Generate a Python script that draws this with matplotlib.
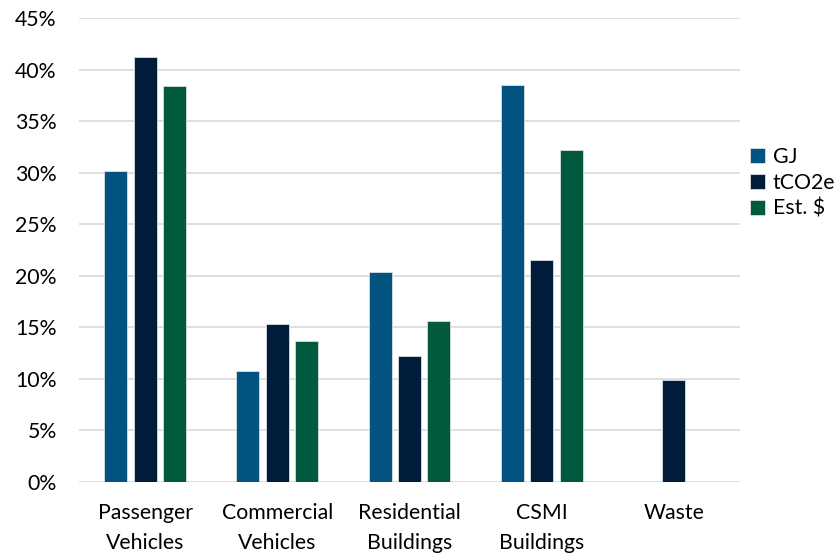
import matplotlib
matplotlib.use("Agg")
import matplotlib.pyplot as plt
import numpy as np
from matplotlib.ticker import FuncFormatter

categories = ["Passenger\nVehicles", "Commercial\nVehicles", "Residential\nBuildings", "CSMI\nBuildings", "Waste"]
series_names = ["GJ", "tCO2e", "Est. $"]
gj = [30.2, 10.8, 20.4, 38.5, 0.0]
tco2e = [41.2, 15.3, 12.2, 21.5, 9.9]
est = [38.4, 13.7, 15.6, 32.2, 0.0]
colors = ["#02537F", "#011D3B", "#015A3D"]

plt.rcParams['font.family'] = ['Lato', 'DejaVu Sans']

fig = plt.figure(figsize=(8.34, 5.55), dpi=100)
ax = fig.add_axes([79/834, 1 - 482/555, (740-79)/834, (482-18)/555])

x = np.arange(len(categories))
w = 0.174
step = 0.223
for i, (vals, name, c) in enumerate(zip([gj, tco2e, est], series_names, colors)):
    ax.bar(x + (i - 1) * step, vals, width=w, color=c, label=name,
           edgecolor="#d9dee3", linewidth=0.6, zorder=3)

ax.set_xlim(-0.5, len(categories) - 0.5)
ax.set_ylim(0, 45)
ax.set_yticks(np.arange(0, 46, 5))
ax.yaxis.set_major_formatter(FuncFormatter(lambda v, p: f"{int(v)}%"))
ax.grid(axis='y', color="#d9d9d9", linewidth=1.2, zorder=0)
ax.set_axisbelow(True)
for s in ax.spines.values():
    s.set_visible(False)
ax.tick_params(axis='both', length=0, labelsize=15.3, colors="#000000")
ax.tick_params(axis='y', pad=16)
ax.tick_params(axis='x', pad=15)
ax.set_xticks(x)
ax.set_xticklabels(categories, linespacing=1.62, va='top')

leg = fig.legend(loc='upper left', bbox_to_anchor=(746/834, 1 - 143/555), frameon=False,
                 fontsize=15.3, handlelength=0.7, handleheight=0.7,
                 handletextpad=0.35, labelspacing=0.27, borderaxespad=0.0, borderpad=0.2)

fig.savefig("out.png", dpi=100)
